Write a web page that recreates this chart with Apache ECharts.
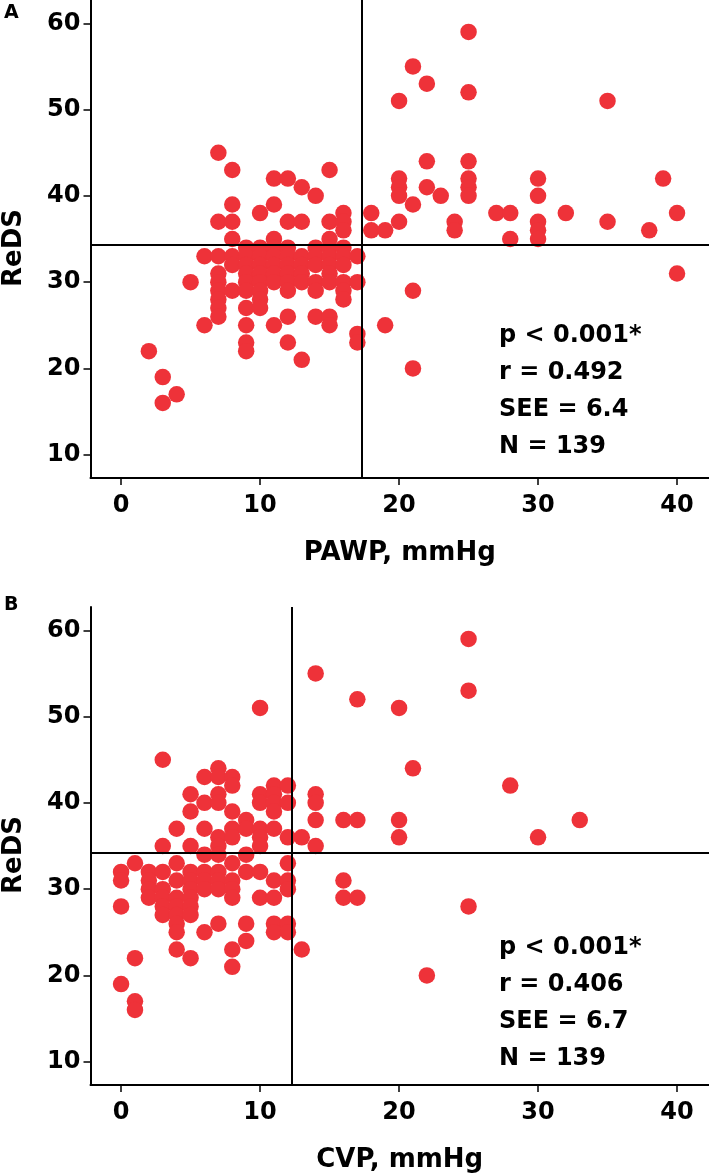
<!DOCTYPE html>
<html>
<head>
<meta charset="utf-8">
<script src="https://cdn.jsdelivr.net/npm/echarts@6/dist/echarts.min.js"></script>
<style>
html,body{margin:0;padding:0;background:#fff;}
#chart{width:709px;height:1176px;}
</style>
</head>
<body>
<div id="chart"></div>
<script>
// Panel A: PAWP (mmHg) vs ReDS (%)
const panelAPoints = [
[2,22],[3,19],[3,16],[4,17],[5,30],[6,33],[6,25],
[7,45],[7,37],[7,33],[7,31],[7,30],[7,29],[7,28],[7,27],[7,26],
[8,43],[8,39],[8,37],[8,35],[8,33],[8,32],[8,29],
[9,34],[9,33],[9,32],[9,31],[9,30],[9,29],[9,27],[9,25],[9,23],[9,22],
[10,38],[10,34],[10,33],[10,32],[10,31],[10,30],[10,29],[10,28],[10,27],
[11,42],[11,39],[11,35],[11,34],[11,33],[11,32],[11,31],[11,30],[11,25],
[12,42],[12,37],[12,34],[12,33],[12,32],[12,31],[12,30],[12,29],[12,26],[12,23],
[13,41],[13,37],[13,33],[13,32],[13,31],[13,30],[13,21],
[14,40],[14,34],[14,33],[14,32],[14,30],[14,29],[14,26],
[15,43],[15,37],[15,35],[15,34],[15,33],[15,32],[15,31],[15,30],[15,26],[15,25],
[16,38],[16,37],[16,36],[16,34],[16,33],[16,32],[16,30],[16,29],[16,28],
[17,33],[17,30],[17,24],[17,23],
[18,38],[18,36],[19,36],[19,25],
[20,51],[20,42],[20,41],[20,40],[20,37],
[21,55],[21,39],[21,29],[21,20],
[22,53],[22,44],[22,41],[23,40],[24,37],[24,36],
[25,59],[25,52],[25,44],[25,42],[25,41],[25,40],
[27,38],[28,38],[28,35],
[30,42],[30,40],[30,37],[30,36],[30,35],
[32,38],[35,51],[35,37],[38,36],[39,42],[40,38],[40,31]
];
// Panel B: CVP (mmHg) vs ReDS (%)
const panelBPoints = [
[0,32],[0,31],[0,28],[0,19],
[1,33],[1,22],[1,17],[1,16],
[2,32],[2,31],[2,30],[2,29],
[3,45],[3,35],[3,32],[3,30],[3,29],[3,28],[3,27],
[4,37],[4,33],[4,31],[4,29],[4,28],[4,27],[4,26],[4,25],[4,23],
[5,41],[5,39],[5,35],[5,32],[5,31],[5,30],[5,29],[5,28],[5,27],[5,22],
[6,43],[6,40],[6,37],[6,34],[6,32],[6,31],[6,30],[6,25],
[7,44],[7,43],[7,41],[7,40],[7,36],[7,35],[7,34],[7,32],[7,31],[7,30],[7,26],
[8,43],[8,42],[8,39],[8,37],[8,36],[8,33],[8,31],[8,30],[8,29],[8,23],[8,21],
[9,38],[9,37],[9,34],[9,32],[9,26],[9,24],
[10,51],[10,41],[10,40],[10,37],[10,36],[10,35],[10,32],[10,29],
[11,42],[11,41],[11,40],[11,39],[11,37],[11,31],[11,29],[11,26],[11,25],
[12,42],[12,40],[12,36],[12,33],[12,31],[12,30],[12,26],[12,25],
[13,36],[13,23],
[14,55],[14,41],[14,40],[14,38],[14,35],
[16,38],[16,31],[16,29],
[17,52],[17,38],[17,29],
[20,51],[20,38],[20,36],
[21,44],[22,20],[25,59],[25,53],[25,28],[28,42],[30,36],[33,38]
];
const xTickValues = [0,10,20,30,40];
const yTickValues = [10,20,30,40,50,60];
const refLinesA = {x: 17.3, y: 34.3};
const refLinesB = {x: 12.25, y: 34.2};
const statsA = ['p < 0.001*','r = 0.492','SEE = 6.4','N = 139'];
const statsB = ['p < 0.001*','r = 0.406','SEE = 6.7','N = 139'];
const xNames = ['PAWP, mmHg','CVP, mmHg'];
const yName = 'ReDS';

const FONT = "'DejaVu Sans', 'Liberation Sans', Arial, sans-serif";
const RED = '#ee3239';

function xAxisCfg(gi, name){
  return {
    type:'value', gridIndex:gi, min:-2.2, max:42.3,
    name:name, nameLocation:'middle', nameGap:62,
    nameTextStyle:{fontFamily:FONT,fontWeight:'bold',fontSize:26,color:'#000'},
    axisLine:{show:true,onZero:false,lineStyle:{color:'#000',width:2}},
    axisTick:{show:true,length:7,lineStyle:{color:'#000',width:1.5},customValues:xTickValues},
    axisLabel:{fontFamily:FONT,fontWeight:'bold',fontSize:24,color:'#000',margin:16,customValues:xTickValues},
    splitLine:{show:false}
  };
}
function yAxisCfg(gi){
  return {
    type:'value', gridIndex:gi, min:7.3, max:62.7,
    name:yName, nameLocation:'middle', nameGap:63, nameRotate:90,
    nameTextStyle:{fontFamily:FONT,fontWeight:'bold',fontSize:26,color:'#000',padding:[0,18,0,0]},
    axisLine:{show:true,onZero:false,lineStyle:{color:'#000',width:2}},
    axisTick:{show:true,length:7,lineStyle:{color:'#000',width:1.5},customValues:yTickValues},
    axisLabel:{fontFamily:FONT,fontWeight:'bold',fontSize:24,color:'#000',margin:10,customValues:yTickValues},
    splitLine:{show:false}
  };
}
function seriesCfg(i, data, ref){
  return {
    type:'scatter', xAxisIndex:i, yAxisIndex:i, data:data,
    symbol:'circle', symbolSize:16.5,
    itemStyle:{color:RED,opacity:1},
    z:2,
    markLine:{
      silent:true, symbol:'none', label:{show:false},
      lineStyle:{color:'#000',width:2,type:'solid'},
      data:[{xAxis:ref.x},{yAxis:ref.y}],
      z:3
    }
  };
}

const chart = echarts.init(document.getElementById('chart'), null, {renderer:'canvas'});
chart.setOption({
  backgroundColor:'#fff',
  animation:false,
  grid:[
    {left:90.5, right:0, top:0, bottom:698, outerBoundsMode:'none', containLabel:false},
    {left:90.5, right:0, top:607, bottom:91, outerBoundsMode:'none', containLabel:false}
  ],
  xAxis:[xAxisCfg(0,xNames[0]), xAxisCfg(1,xNames[1])],
  yAxis:[yAxisCfg(0), yAxisCfg(1)],
  series:[seriesCfg(0,panelAPoints,refLinesA), seriesCfg(1,panelBPoints,refLinesB)],
  graphic:[
    {type:'text', left:4, top:4, style:{text:'A', font:"bold 19px "+FONT, fill:'#000'}},
    {type:'text', left:4, top:596, style:{text:'B', font:"bold 19px "+FONT, fill:'#000'}},
    {type:'text', left:499, top:317, style:{text:statsA.join('\n'), font:"bold 24px "+FONT, fill:'#000', lineHeight:37}},
    {type:'text', left:499, top:929, style:{text:statsB.join('\n'), font:"bold 24px "+FONT, fill:'#000', lineHeight:37}}
  ]
});
</script>
</body>
</html>
